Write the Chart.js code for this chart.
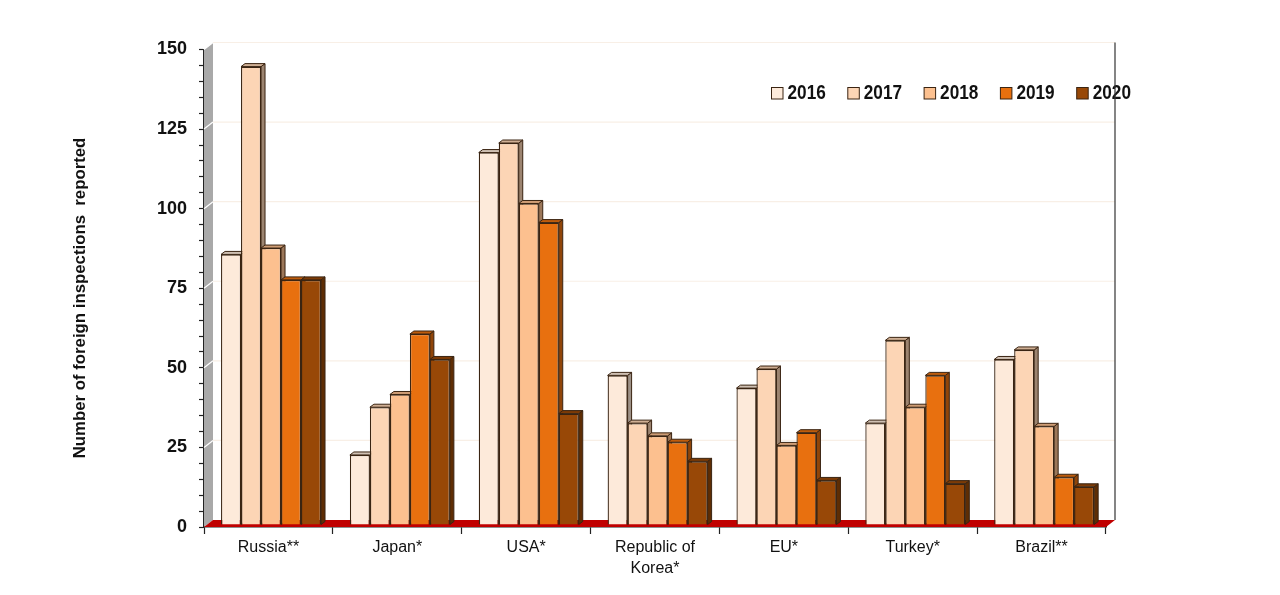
<!DOCTYPE html>
<html>
<head>
<meta charset="utf-8">
<style>
  html, body { margin: 0; padding: 0; background: #fff; }
  canvas { display: block; }
</style>
<script src="https://cdn.jsdelivr.net/npm/chart.js@4"></script>
</head>
<body>
<canvas id="chart" width="1280" height="595"></canvas>
<script>
const countries = ['Russia**', 'Japan*', 'USA*', ['Republic of', 'Korea*'], 'EU*', 'Turkey*', 'Brazil**'];
const years = ['2016', '2017', '2018', '2019', '2020'];
const values2016 = [85, 22, 117, 47, 43, 32, 52];
const values2017 = [144, 37, 120, 32, 49, 58, 55];
const values2018 = [87, 41, 101, 28, 25, 37, 31];
const values2019 = [77, 60, 95, 26, 29, 47, 15];
const values2020 = [77, 52, 35, 20, 14, 13, 12];
const yearValues = [values2016, values2017, values2018, values2019, values2020];
const yearColors = ['#fdeada', '#fcd5b5', '#fcc08f', '#e8700f', '#984807'];
const yTitle = 'Number of foreign inspections  reported';

const outline = '#3a2412';
const font = '"Liberation Sans", Arial, sans-serif';

// shade a hex colour, used for the side and top of the bars
function shade(hex, k) {
  const n = parseInt(hex.slice(1), 16);
  return `rgb(${(n >> 16) * k}, ${((n >> 8) & 255) * k}, ${(n & 255) * k})`;
}

function poly(ctx, pts, fill, stroke) {
  ctx.beginPath();
  pts.forEach((p, i) => i ? ctx.lineTo(p[0], p[1]) : ctx.moveTo(p[0], p[1]));
  ctx.closePath();
  ctx.fillStyle = fill;
  ctx.fill();
  if (stroke) {
    ctx.strokeStyle = stroke;
    ctx.lineWidth = 1;
    ctx.stroke();
  }
}

// walls, floor, legend and axis title of the fake 3D box
const wallDx = 9, wallDy = 7;
const barShiftX = 2.6, barShiftY = -2;
const boxPlugin = {
  id: 'box',
  beforeDatasetsDraw(chart) {
    const { ctx, chartArea: a, scales: { y } } = chart;
    ctx.save();
    poly(ctx, [[a.left, a.top], [a.left + wallDx, a.top - wallDy], [a.left + wallDx, a.bottom - wallDy], [a.left, a.bottom]], '#a9a9a9');
    poly(ctx, [[a.left, a.bottom], [a.left + wallDx, a.bottom - wallDy], [a.right + wallDx, a.bottom - wallDy], [a.right, a.bottom]], '#c00000');

    y.ticks.filter(t => t.value % 25 === 0).forEach(t => {
      const py = y.getPixelForValue(t.value);
      ctx.lineWidth = 1.2;
      if (t.value > 0) {
        ctx.strokeStyle = '#f8efe6';
        ctx.beginPath();
        ctx.moveTo(a.left + wallDx, py - wallDy);
        ctx.lineTo(a.right + wallDx, py - wallDy);
        ctx.stroke();
        ctx.strokeStyle = '#fff';
        ctx.beginPath();
        ctx.moveTo(a.left, py);
        ctx.lineTo(a.left + wallDx, py - wallDy);
        ctx.stroke();
      }
    });

    // legend
    ctx.textBaseline = 'middle';
    ctx.textAlign = 'left';
    chart.data.datasets.forEach((ds, i) => {
      const x = 771.5 + i * 76.3;
      ctx.fillStyle = ds.backgroundColor;
      ctx.strokeStyle = outline;
      ctx.lineWidth = 1;
      ctx.fillRect(x, 87.5, 11.5, 11.5);
      ctx.strokeRect(x, 87.5, 11.5, 11.5);
      ctx.save();
      ctx.translate(x + 16, 93.5);
      ctx.scale(0.86, 1);
      ctx.font = 'bold 20px ' + font;
      ctx.fillStyle = '#111';
      ctx.fillText(ds.label, 0, 0);
      ctx.restore();
    });

    // right edge of the back wall
    ctx.strokeStyle = '#333';
    ctx.lineWidth = 1.2;
    ctx.beginPath();
    ctx.moveTo(a.right + wallDx, a.top - wallDy);
    ctx.lineTo(a.right + wallDx, a.bottom - wallDy);
    ctx.stroke();

    // y axis title sits lower than the middle of the axis
    ctx.save();
    ctx.translate(80.5, 298);
    ctx.rotate(-Math.PI / 2);
    ctx.textAlign = 'center';
    ctx.font = 'bold 16.8px ' + font;
    ctx.fillStyle = '#111';
    ctx.fillText(yTitle, 0, 0);
    ctx.restore();

    // bar sides and tops, left to right, so the fronts drawn later cover them
    ctx.translate(barShiftX, barShiftY);
    const dx = 4, dy = 3;
    chart.data.datasets.forEach((ds, i) => {
      chart.getDatasetMeta(i).data.forEach(bar => {
        const l = bar.x - bar.width / 2, r = bar.x + bar.width / 2;
        poly(ctx, [[r, bar.y], [r + dx, bar.y - dy], [r + dx, bar.base - dy], [r, bar.base]], shade(ds.backgroundColor, 0.62), outline);
        poly(ctx, [[l, bar.y], [l + dx, bar.y - dy], [r + dx, bar.y - dy], [r, bar.y]], shade(ds.backgroundColor, 0.82), outline);
      });
    });
    ctx.restore();

    ctx.save();
    ctx.translate(barShiftX, barShiftY);
  },
  afterDatasetsDraw(chart) {
    chart.ctx.restore();
  }
};

new Chart(document.getElementById('chart'), {
  type: 'bar',
  plugins: [boxPlugin],
  data: {
    labels: countries,
    datasets: years.map((year, i) => ({
      label: year,
      data: yearValues[i],
      backgroundColor: yearColors[i],
      borderColor: outline,
      borderWidth: 1.3,
      categoryPercentage: 0.776,
      barPercentage: 1
    }))
  },
  options: {
    responsive: false,
    animation: false,
    devicePixelRatio: 1,
    layout: { padding: { top: 49.5, right: 174 } },
    plugins: { legend: { display: false }, tooltip: { enabled: false } },
    scales: {
      x: {
        afterFit: scale => { scale.height = 68; },
        grid: { offset: true, drawOnChartArea: false, tickLength: 7, tickColor: '#222', tickWidth: 1.2 },
        border: { color: '#222', width: 1.4 },
        ticks: { maxRotation: 0, autoSkip: false, padding: 3, color: '#111', font: { family: font, size: 16, lineHeight: 1.3 } }
      },
      y: {
        min: 0,
        max: 150,
        afterFit: scale => { scale.width = 204; },
        grid: { drawOnChartArea: false, tickLength: 5, tickColor: '#222', tickWidth: 1.2 },
        border: { color: '#222', width: 1.4 },
        ticks: {
          stepSize: 5,
          autoSkip: false,
          padding: 12,
          color: '#111',
          font: { family: font, size: 18, weight: 'bold' },
          callback: v => (v % 25 === 0 ? v : '')
        }
      }
    }
  }
});
</script>
</body>
</html>
